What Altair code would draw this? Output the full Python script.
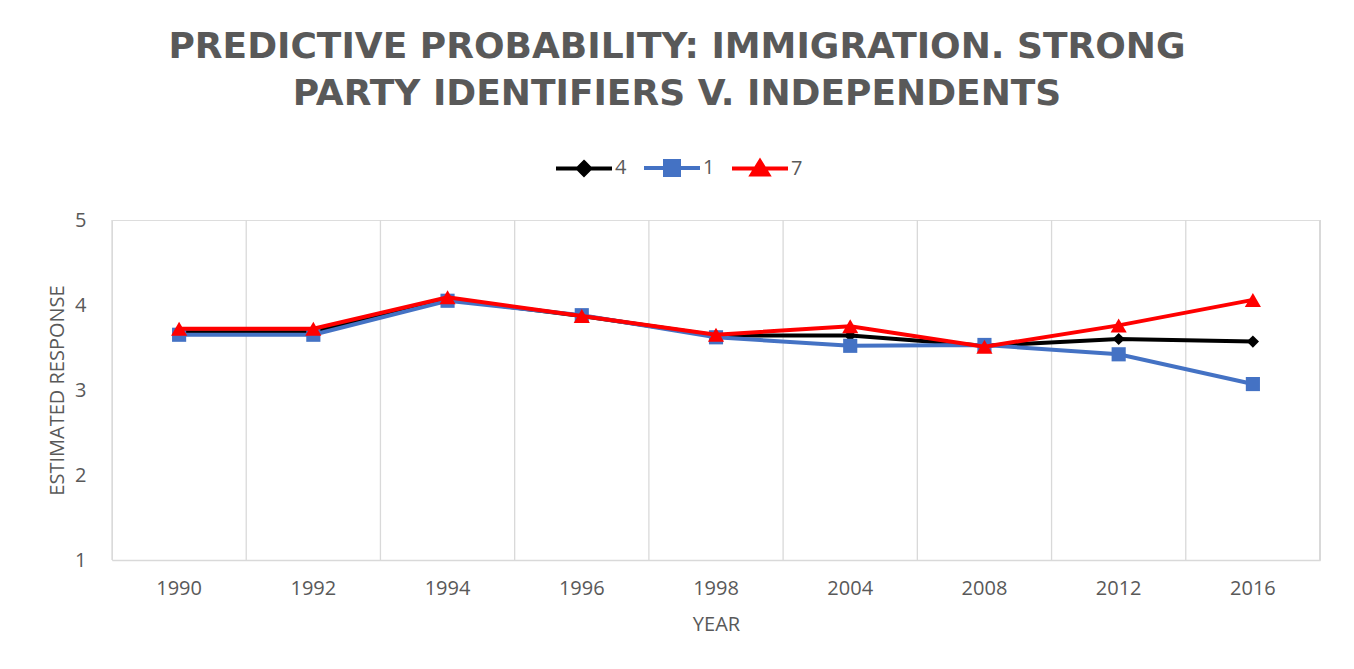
import altair as alt
import pandas as pd

years = ["1990", "1992", "1994", "1996", "1998", "2004", "2008", "2012", "2016"]
series_names = ["4", "1", "7"]
series_colors = ["#000000", "#4472C4", "#FF0000"]
values_4 = [3.68, 3.68, 4.07, 3.87, 3.64, 3.64, 3.52, 3.60, 3.57]
values_1 = [3.65, 3.65, 4.05, 3.88, 3.62, 3.52, 3.53, 3.42, 3.07]
values_7 = [3.72, 3.72, 4.09, 3.87, 3.65, 3.75, 3.51, 3.76, 4.06]
title_lines = ["PREDICTIVE PROBABILITY: IMMIGRATION. STRONG", "PARTY IDENTIFIERS V. INDEPENDENTS"]

rows = []
for name, vals in zip(series_names, [values_4, values_1, values_7]):
    for y, v in zip(years, vals):
        rows.append({"series": name, "year": y, "value": v})
df = pd.DataFrame(rows)
years_df = pd.DataFrame({"year": years})

FONT = "Open Sans"
TITLE_FONT = "DejaVu Sans"
GRAY = "#595959"
GRID = "#D9D9D9"

x_scale = alt.Scale(type="band", domain=years, paddingInner=0, paddingOuter=0)

x_enc = alt.X(
    "year:O",
    sort=years,
    bandPosition=0.5,
    scale=x_scale,
    axis=alt.Axis(
        title="YEAR",
        grid=False,
        ticks=False,
        domainColor=GRID,
        domainWidth=1.3,
        labelAngle=0,
        labelAlign="center",
        labelFont=FONT,
        labelFontSize=20,
        labelColor=GRAY,
        labelPadding=28,
        titleFont=FONT,
        titleFontSize=20,
        titleFontWeight="normal",
        titleColor=GRAY,
        titlePadding=16,
    ),
)
y_enc = alt.Y(
    "value:Q",
    scale=alt.Scale(domain=[1, 5], nice=False, zero=False),
    axis=alt.Axis(
        title="ESTIMATED RESPONSE",
        values=[1, 2, 3, 4, 5],
        grid=False,
        domain=False,
        ticks=False,
        labelFont=FONT,
        labelFontSize=20,
        labelColor=GRAY,
        labelPadding=26,
        titleFont=FONT,
        titleFontSize=20,
        titleFontWeight="normal",
        titleColor=GRAY,
        titlePadding=7,
    ),
)

shape_expr = (
    "datum.value === '4' ? 'M-1,0H1M0,-0.22L0.22,0L0,0.22L-0.22,0Z' : "
    "datum.value === '1' ? 'M-1,0H1M-0.25,-0.25H0.25V0.25H-0.25Z' : "
    "'M-1,0H1M0,-0.26L0.29,0.21L-0.29,0.21Z'"
)

color_enc = alt.Color(
    "series:N",
    scale=alt.Scale(domain=series_names, range=series_colors),
    legend=alt.Legend(
        title=None,
        orient="none",
        direction="horizontal",
        legendX=442,
        legendY=-82,
        symbolSize=3136,
        symbolStrokeWidth=4,
        symbolType={"expr": shape_expr},
        symbolFillColor={"expr": "scale('color', datum.value)"},
        symbolStrokeColor={"expr": "scale('color', datum.value)"},
        symbolOpacity=1,
        labelFont=FONT,
        labelFontSize=20,
        labelColor=GRAY,
        labelOffset=1,
        columnPadding=9,
    ),
)

# category-boundary gridlines (Excel style), positioned through the x scale
grid_left = alt.Chart(years_df).mark_rule(color=GRID, strokeWidth=1.3).encode(
    x=alt.X("year:O", sort=years, bandPosition=0, scale=x_scale)
)
grid_right = alt.Chart(years_df).mark_rule(color=GRID, strokeWidth=1.3).encode(
    x=alt.XDatum("2016", type="ordinal", bandPosition=1)
)

base = alt.Chart(df)
marker_shapes = {"4": ("diamond", 150), "1": ("square", 200), "7": ("triangle-up", 260)}

layers = []
for name in series_names:
    shp, sz = marker_shapes[name]
    sub = base.transform_filter(alt.datum.series == name)
    layers.append(sub.mark_line(strokeWidth=4).encode(x=x_enc, y=y_enc, color=color_enc))
    layers.append(
        sub.mark_point(shape=shp, size=sz, filled=True, opacity=1).encode(
            x=x_enc, y=y_enc, color=color_enc
        )
    )

chart = (
    alt.layer(grid_left, grid_right, *layers)
    .properties(
        width=1208,
        height=340,
        padding={"left": 104, "top": 212, "right": 26, "bottom": 101},
        autosize=alt.AutoSizeParams(type="none"),
        title=alt.TitleParams(
            title_lines,
            font=TITLE_FONT,
            fontSize=36,
            fontWeight="bold",
            color=GRAY,
            anchor="middle",
            frame="group",
            dx=-39,
            offset=25,
            lineHeight=47,
        ),
    )
    .configure_view(stroke=None)
    .configure(background="white")
)

chart.save("out.html", embed_options={"renderer": "svg", "actions": False})
